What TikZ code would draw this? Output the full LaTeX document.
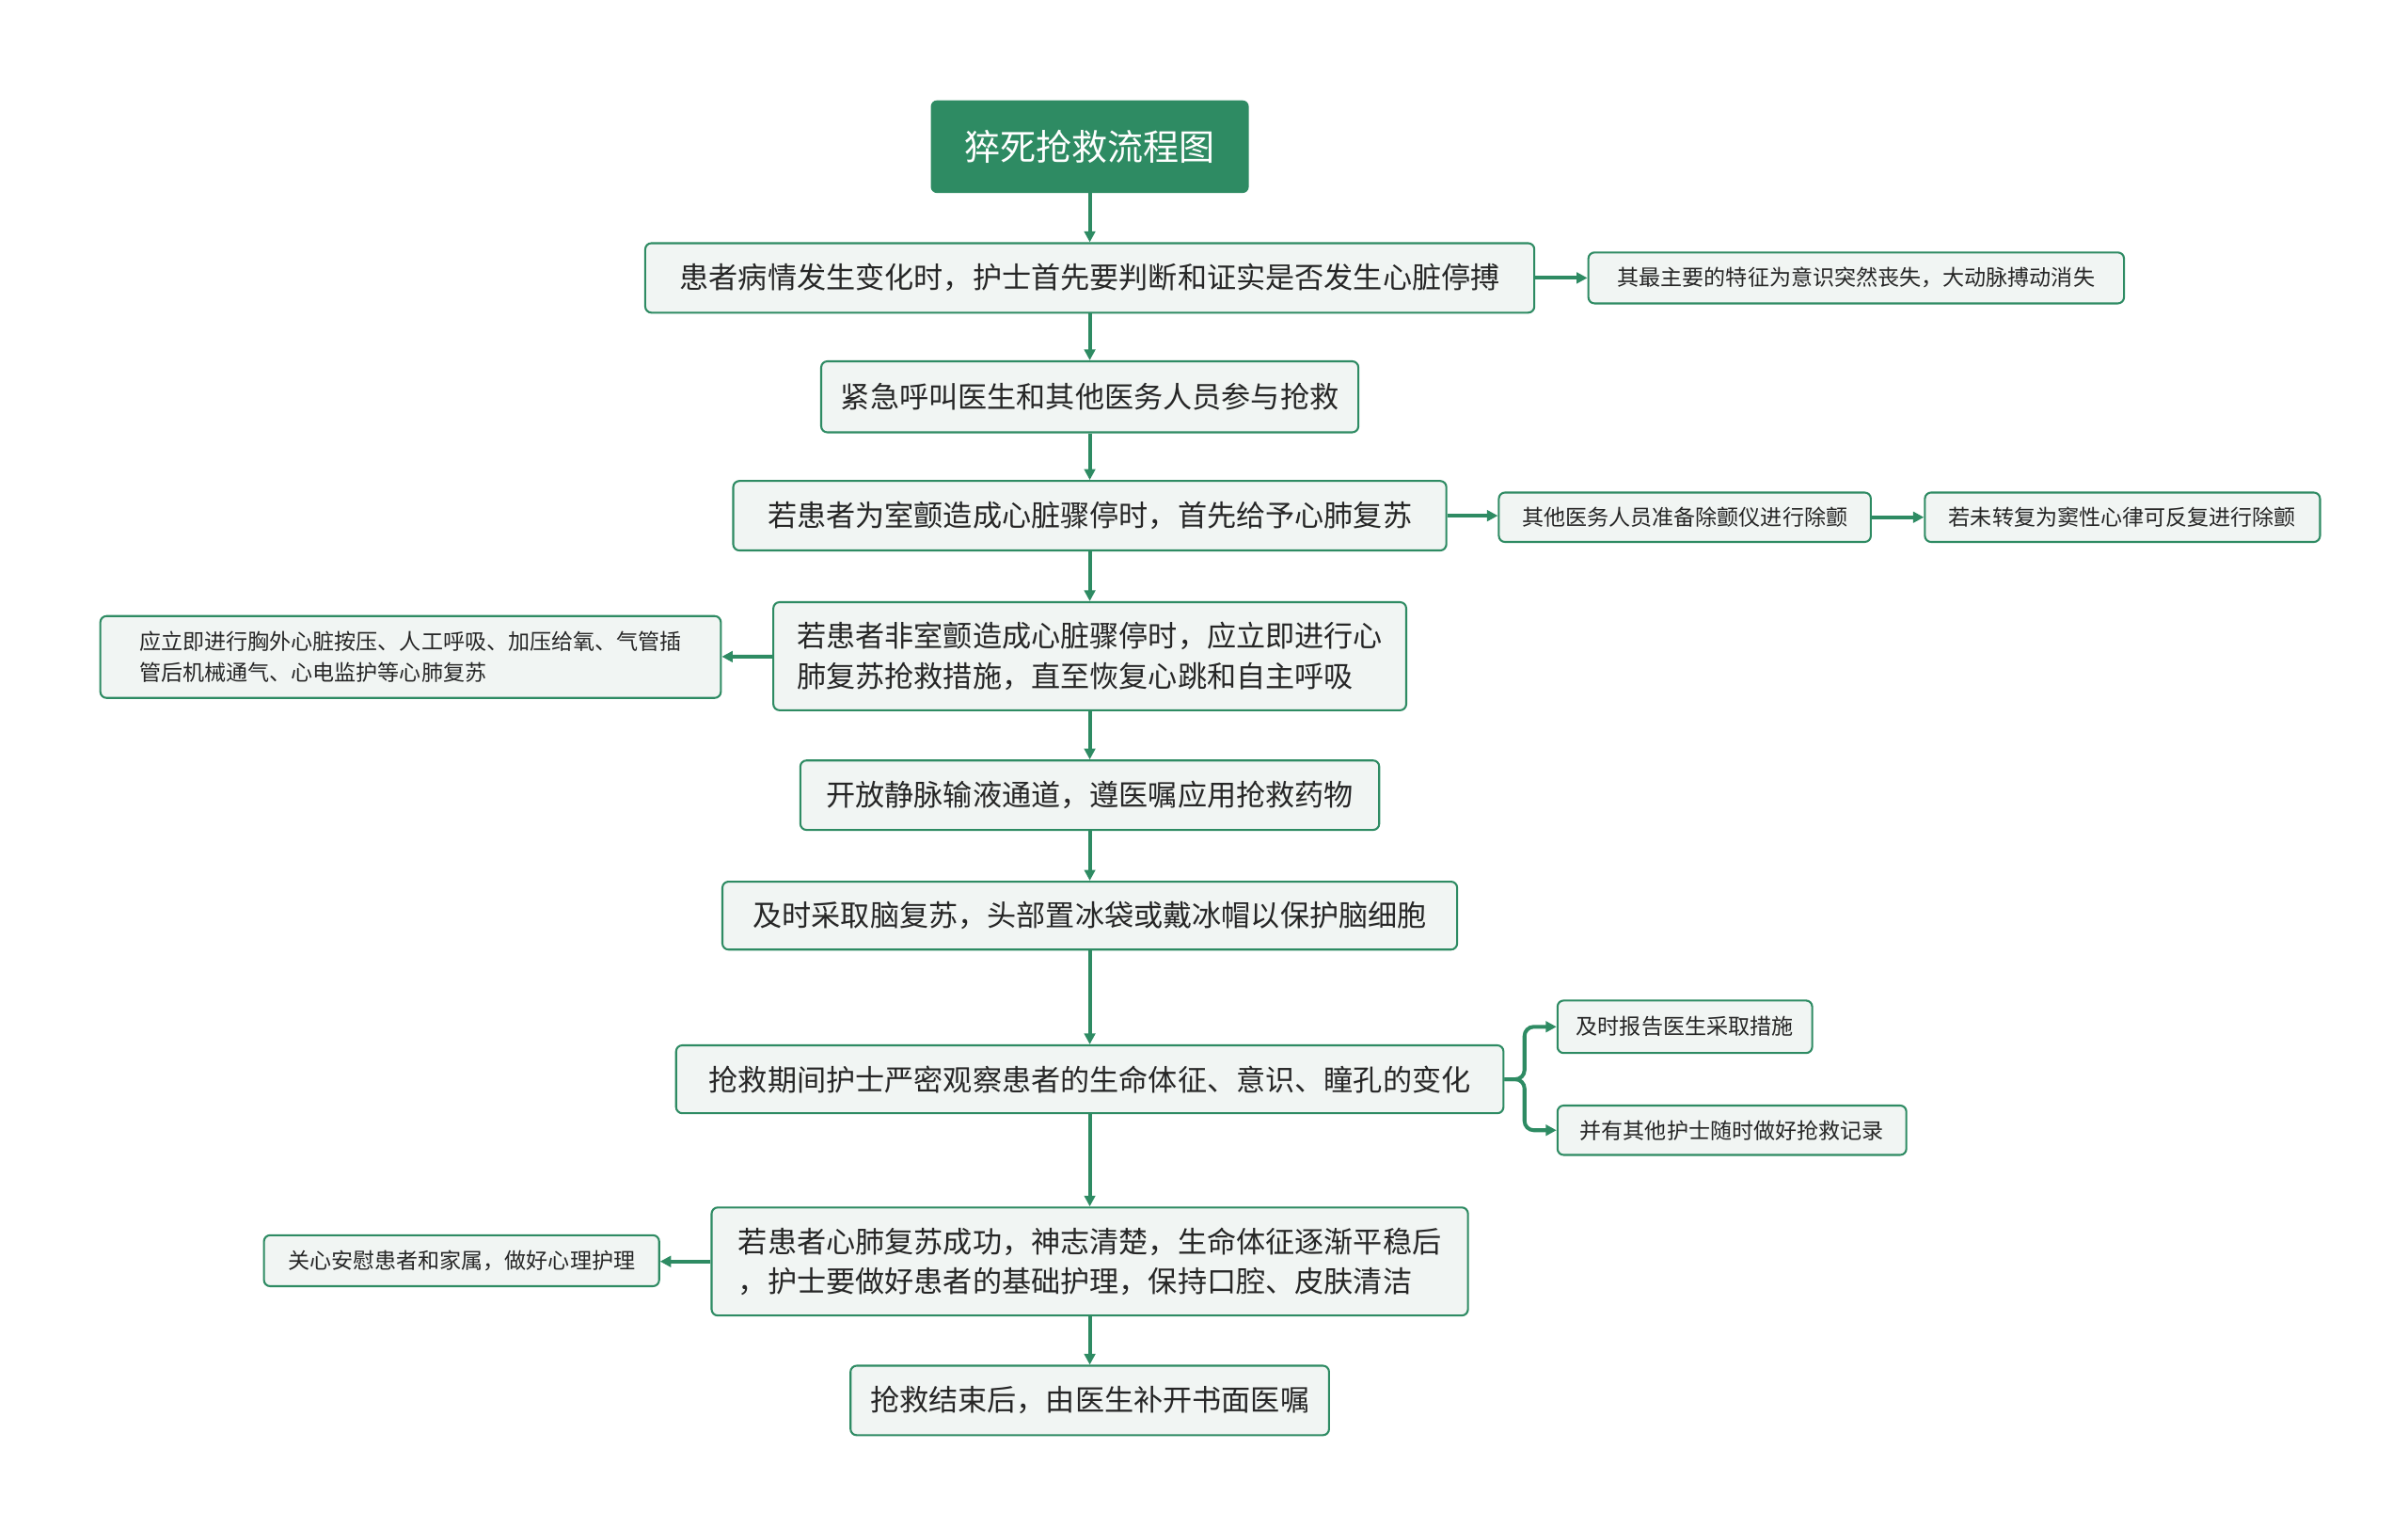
\documentclass[tikz,border=0pt]{standalone}
\usepackage{fontspec}
\setmainfont{Noto Sans CJK SC}
\usetikzlibrary{arrows.meta}
\definecolor{gr}{HTML}{2E8B63}
\definecolor{bx}{HTML}{F1F5F3}
\tikzset{
  x=0.05cm,y=-0.05cm,
  box/.style={draw=gr,fill=bx,line width=1.8pt,rounded corners=0.2cm,inner sep=0pt,font=\fontsize{27}{37}\selectfont,text=black!85},
  sbox/.style={box,font=\fontsize{20}{29}\selectfont},
  arr/.style={draw=gr,line width=3.5pt,-{Triangle[length=0.35cm,width=0.35cm]}}
}
\begin{document}
\begin{tikzpicture}
\useasboundingbox (0,0) rectangle (1560,989.6);
\node[fill=gr,rounded corners=0.2cm,minimum width=206*0.05cm,minimum height=60*0.05cm,text=white,font=\fontsize{33}{40}\selectfont] (t) at (706,95) {猝死抢救流程图};
\node[box,minimum width=576*0.05cm,minimum height=45*0.05cm] (n1) at (706,180) {患者病情发生变化时，护士首先要判断和证实是否发生心脏停搏};
\node[sbox,minimum width=347*0.05cm,minimum height=33*0.05cm] (r1) at (1202.5,180) {其最主要的特征为意识突然丧失，大动脉搏动消失};
\node[box,minimum width=348*0.05cm,minimum height=46*0.05cm] (n2) at (706,257) {紧急呼叫医生和其他医务人员参与抢救};
\node[box,minimum width=462*0.05cm,minimum height=45*0.05cm] (n3) at (706,334) {若患者为室颤造成心脏骤停时，首先给予心肺复苏};
\node[sbox,minimum width=241*0.05cm,minimum height=32*0.05cm] (r3a) at (1091.5,335) {其他医务人员准备除颤仪进行除颤};
\node[sbox,minimum width=256*0.05cm,minimum height=32*0.05cm] (r3b) at (1375,335) {若未转复为窦性心律可反复进行除颤};
\node[box,minimum width=410*0.05cm,minimum height=70*0.05cm,align=left] (n4) at (706,425) {若患者非室颤造成心脏骤停时，应立即进行心\\肺复苏抢救措施，直至恢复心跳和自主呼吸};
\node[sbox,minimum width=402*0.05cm,minimum height=53*0.05cm,align=left] (l4) at (266,425.5) {应立即进行胸外心脏按压、人工呼吸、加压给氧、气管插\\管后机械通气、心电监护等心肺复苏};
\node[box,minimum width=375*0.05cm,minimum height=45*0.05cm] (n5) at (706,515) {开放静脉输液通道，遵医嘱应用抢救药物};
\node[box,minimum width=476*0.05cm,minimum height=44*0.05cm] (n6) at (706,593) {及时采取脑复苏，头部置冰袋或戴冰帽以保护脑细胞};
\node[box,minimum width=536*0.05cm,minimum height=44*0.05cm] (n7) at (706,699) {抢救期间护士严密观察患者的生命体征、意识、瞳孔的变化};
\node[sbox,minimum width=165*0.05cm,minimum height=34*0.05cm] (r7a) at (1091.5,665) {及时报告医生采取措施};
\node[sbox,minimum width=226*0.05cm,minimum height=32*0.05cm] (r7b) at (1122,732) {并有其他护士随时做好抢救记录};
\node[box,minimum width=490*0.05cm,minimum height=70*0.05cm,align=left] (n8) at (706,817) {若患者心肺复苏成功，神志清楚，生命体征逐渐平稳后\\，护士要做好患者的基础护理，保持口腔、皮肤清洁};
\node[sbox,minimum width=256*0.05cm,minimum height=33*0.05cm] (l8) at (299,816.5) {关心安慰患者和家属，做好心理护理};
\node[box,minimum width=310*0.05cm,minimum height=45*0.05cm] (n9) at (706,907) {抢救结束后，由医生补开书面医嘱};
\draw[arr] (t) -- (n1);
\draw[arr] (n1) -- (n2);
\draw[arr] (n2) -- (n3);
\draw[arr] (n3) -- (n4);
\draw[arr] (n4) -- (n5);
\draw[arr] (n5) -- (n6);
\draw[arr] (n6) -- (n7);
\draw[arr] (n7) -- (n8);
\draw[arr] (n8) -- (n9);
\draw[arr] (n1) -- (r1);
\draw[arr] (n3.east) -- (r3a.west|-n3.east);
\draw[arr] (r3a) -- (r3b);
\draw[arr] (n4) -- (l4);
\draw[arr] (n8.west) -- (l8.east|-n8.west);
\draw[arr,rounded corners=0.3cm] (n7.east) -- ++(13,0) |- (r7a.west);
\draw[arr,rounded corners=0.3cm] (n7.east) -- ++(13,0) |- (r7b.west);
\end{tikzpicture}
\end{document}
